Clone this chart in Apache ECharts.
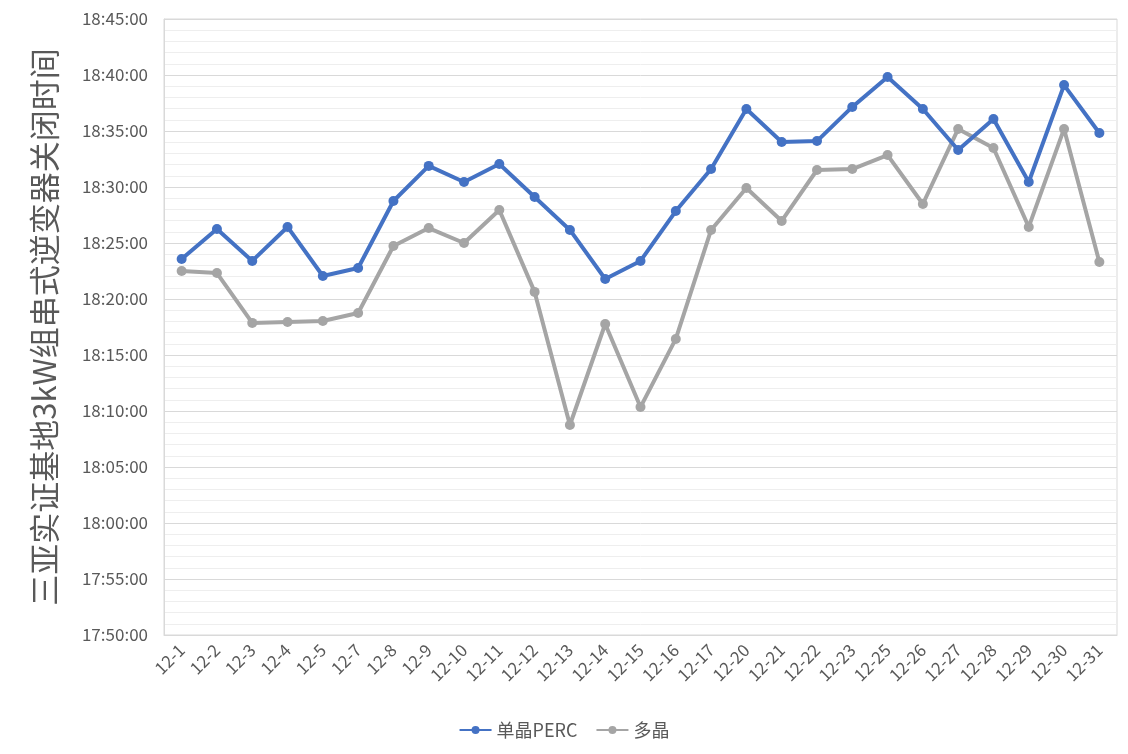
<!DOCTYPE html>
<html><head><meta charset="utf-8">
<script src="https://cdn.jsdelivr.net/npm/echarts@6/dist/echarts.min.js"></script>
<style>html,body{margin:0;padding:0;background:#fff}#c{width:1128px;height:754px}</style>
</head><body><div id="c"></div>
<script>
const categories = ["12-1","12-2","12-3","12-4","12-5","12-7","12-8","12-9","12-10","12-11","12-12","12-13","12-14","12-15","12-16","12-17","12-20","12-21","12-22","12-23","12-25","12-26","12-27","12-28","12-29","12-30","12-31"];
const monoPERC = ["18:23:34","18:26:15","18:23:24","18:26:26","18:22:03","18:22:46","18:28:45","18:31:53","18:30:27","18:32:03","18:29:06","18:26:10","18:21:47","18:23:24","18:27:51","18:31:36","18:36:58","18:34:01","18:34:06","18:37:09","18:39:49","18:36:58","18:33:18","18:36:04","18:30:27","18:39:06","18:34:49"];
const multi = ["18:22:30","18:22:19","18:17:52","18:17:57","18:18:02","18:18:45","18:24:44","18:26:20","18:25:00","18:27:57","18:20:38","18:08:45","18:17:46","18:10:21","18:16:26","18:26:10","18:29:55","18:26:58","18:31:31","18:31:36","18:32:51","18:28:29","18:35:11","18:33:29","18:26:26","18:35:11","18:23:18"];
const seriesNames = ["单晶PERC","多晶"];
const yAxisTitle = "三亚实证基地3kW组串式逆变器关闭时间";
const yMin = "17:50:00", yMax = "18:45:00", yStepMinutes = 5;

function toSec(s){const p=s.split(":").map(Number);return p[0]*3600+p[1]*60+(p[2]||0);}
function fmt(v){const h=Math.floor(v/3600),m=Math.floor((v%3600)/60),s=Math.round(v%60);const z=n=>String(n).padStart(2,"0");return h+":"+z(m)+":"+z(s);}
const font = '"Noto Sans CJK SC", "Noto Sans", sans-serif';
const chart = echarts.init(document.getElementById("c"));
chart.setOption({
  animation:false,
  textStyle:{fontFamily:font},
  grid:{left:164,right:11,top:19,bottom:119,show:true,borderColor:"#d9d9d9",borderWidth:1},
  legend:{bottom:10,left:"center",itemWidth:32,itemHeight:10,itemGap:18,
    textStyle:{fontSize:18,color:"#595959",fontFamily:font},data:seriesNames},
  xAxis:{type:"category",data:categories,boundaryGap:true,
    axisLine:{lineStyle:{color:"#d9d9d9"}},axisTick:{show:false},
    axisLabel:{rotate:45,fontSize:17,color:"#595959",margin:12,interval:0}},
  yAxis:{type:"value",min:toSec(yMin),max:toSec(yMax),interval:yStepMinutes*60,
    name:yAxisTitle,nameLocation:"middle",nameGap:104,nameRotate:90,
    nameTextStyle:{fontSize:31,color:"#595959"},
    axisLine:{show:true,lineStyle:{color:"#d9d9d9"}},axisTick:{show:false},
    axisLabel:{formatter:fmt,fontSize:17,color:"#595959",margin:16},
    splitLine:{lineStyle:{color:"#d9d9d9",width:1}},
    minorTick:{show:false,splitNumber:5},
    minorSplitLine:{show:true,lineStyle:{color:"#eeeeee",width:1}}},
  series:[
    {name:seriesNames[0],type:"line",data:monoPERC.map(toSec),color:"#4472c4",
     lineStyle:{width:4},symbol:"circle",symbolSize:10,z:3},
    {name:seriesNames[1],type:"line",data:multi.map(toSec),color:"#a5a5a5",
     lineStyle:{width:4},symbol:"circle",symbolSize:10,z:2}
  ]
});
</script></body></html>
